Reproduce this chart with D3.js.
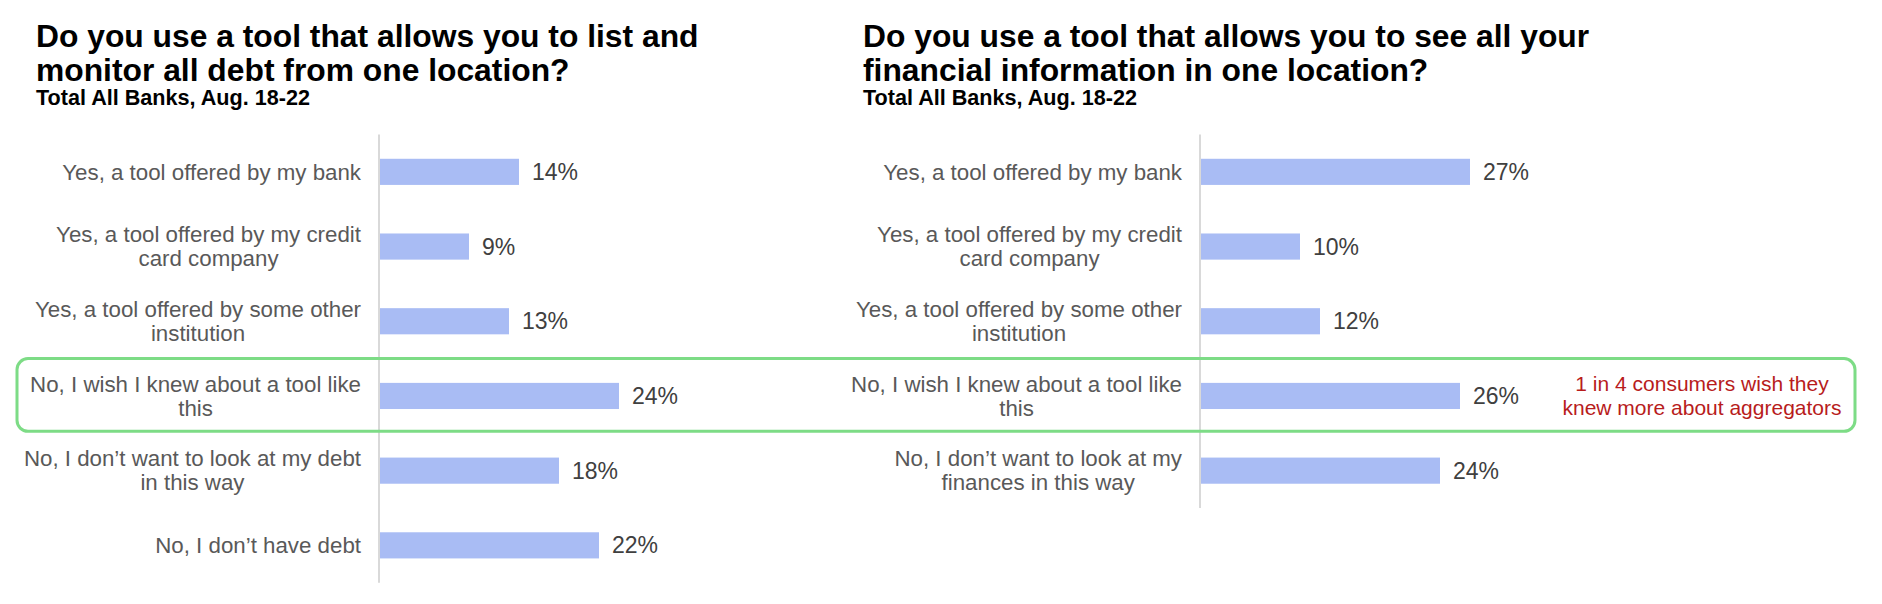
<!DOCTYPE html>
<html>
<head>
<meta charset="utf-8">
<script src="https://cdn.jsdelivr.net/npm/d3@7"></script>
<style>
  html, body { margin: 0; padding: 0; background: #fff; }
  svg { display: block; font-family: "Liberation Sans", Arial, sans-serif; }
</style>
</head>
<body>
<svg id="chart" width="1882" height="604"></svg>
<script>
// =========================
// DATA
// =========================

const debtTitle = ['Do you use a tool that allows you to list and', 'monitor all debt from one location?'];
const infoTitle = ['Do you use a tool that allows you to see all your', 'financial information in one location?'];
const subtitle = 'Total All Banks, Aug. 18-22';

const debtCategories = [
  'Yes, a tool offered by my bank',
  'Yes, a tool offered by my credit card company',
  'Yes, a tool offered by some other institution',
  'No, I wish I knew about a tool like this',
  'No, I don\u2019t want to look at my debt in this way',
  'No, I don\u2019t have debt'
];
const debtValues = [14, 9, 13, 24, 18, 22];

const infoCategories = [
  'Yes, a tool offered by my bank',
  'Yes, a tool offered by my credit card company',
  'Yes, a tool offered by some other institution',
  'No, I wish I knew about a tool like this',
  'No, I don\u2019t want to look at my finances in this way'
];
const infoValues = [27, 10, 12, 26, 24];

const highlightCategory = 'No, I wish I knew about a tool like this';
const calloutLines = ['1 in 4 consumers wish they', 'knew more about aggregators'];

// =========================
// LAYOUT
// =========================

const svg = d3.select('#chart');
const plotTop = 134.5;
const step = 74.7;

const barColor = '#a9bcf4';
const labelColor = '#595959';
const valueColor = '#404040';
const labelSize = 22.3;

function drawTitle(x, lines) {
  const t = svg.append('text')
    .attr('x', x)
    .attr('y', 47)
    .attr('font-size', 31.8)
    .attr('font-weight', 'bold')
    .attr('fill', '#000');
  lines.forEach((line, i) => {
    t.append('tspan')
      .attr('x', x)
      .attr('dy', i === 0 ? 0 : 34)
      .text(line);
  });

  svg.append('text')
    .attr('x', x)
    .attr('y', 105)
    .attr('font-size', 21.6)
    .attr('font-weight', 'bold')
    .attr('fill', '#000')
    .text(subtitle);
}

// wrap a label, centre its lines against each other, right-align the block
function wrapLabel(g, text, rightX, cy, maxWidth) {
  const words = text.split(' ');
  const probe = g.append('text').attr('font-size', labelSize);
  const lines = [];
  let line = [];
  words.forEach(w => {
    line.push(w);
    probe.text(line.join(' '));
    if (probe.node().getComputedTextLength() > maxWidth && line.length > 1) {
      line.pop();
      lines.push(line.join(' '));
      line = [w];
    }
  });
  lines.push(line.join(' '));

  let widest = 0;
  lines.forEach(l => {
    probe.text(l);
    widest = Math.max(widest, probe.node().getComputedTextLength());
  });
  probe.remove();

  const lineHeight = 24;
  const startY = cy - (lines.length - 1) * lineHeight / 2;
  lines.forEach((l, i) => {
    g.append('text')
      .attr('x', rightX - widest / 2)
      .attr('y', startY + i * lineHeight)
      .attr('dy', '0.35em')
      .attr('text-anchor', 'middle')
      .attr('font-size', labelSize)
      .attr('fill', labelColor)
      .text(l);
  });
}

function drawPanel(axisX, categories, values) {
  const g = svg.append('g');

  const y = d3.scaleBand()
    .domain(categories)
    .range([plotTop, plotTop + categories.length * step])
    .paddingInner(0.65)
    .paddingOuter(0.325);

  const x = d3.scaleLinear()
    .domain([0, 30])
    .range([axisX, axisX + 300]);

  // bars
  g.selectAll('.bar')
    .data(categories)
    .enter()
    .append('rect')
    .attr('class', 'bar')
    .attr('x', x(0))
    .attr('y', d => y(d))
    .attr('width', (d, i) => x(values[i]) - x(0))
    .attr('height', y.bandwidth())
    .attr('fill', barColor);

  // axis line
  g.append('line')
    .attr('x1', x(0))
    .attr('x2', x(0))
    .attr('y1', y.range()[0])
    .attr('y2', y.range()[1])
    .attr('stroke', '#d9d9d9')
    .attr('stroke-width', 2);

  // value labels
  g.selectAll('.value')
    .data(categories)
    .enter()
    .append('text')
    .attr('class', 'value')
    .attr('x', (d, i) => x(values[i]) + 13)
    .attr('y', d => y(d) + y.bandwidth() / 2)
    .attr('dy', '0.35em')
    .attr('font-size', 23)
    .attr('fill', valueColor)
    .text((d, i) => `${values[i]}%`);

  // category labels
  categories.forEach(c => {
    wrapLabel(g, c, axisX - 18, y(c) + y.bandwidth() / 2, 350);
  });

  return y;
}

drawTitle(36, debtTitle);
drawTitle(863, infoTitle);

const yLeft = drawPanel(379, debtCategories, debtValues);
drawPanel(1200, infoCategories, infoValues);

// highlight box around the "wish I knew" row
const rowTop = yLeft(highlightCategory) - yLeft.step() * yLeft.paddingInner() / 2;
svg.append('rect')
  .attr('x', 17)
  .attr('y', rowTop)
  .attr('width', 1855 - 17)
  .attr('height', yLeft.step() - 2)
  .attr('rx', 11)
  .attr('fill', 'none')
  .attr('stroke', '#7ddc86')
  .attr('stroke-width', 3);

// callout
const calloutY = yLeft(highlightCategory) + yLeft.bandwidth() / 2;
calloutLines.forEach((l, i) => {
  svg.append('text')
    .attr('x', 1702)
    .attr('y', calloutY - 12 + i * 24)
    .attr('dy', '0.35em')
    .attr('text-anchor', 'middle')
    .attr('font-size', 21)
    .attr('fill', '#b81c1c')
    .text(l);
});
</script>
</body>
</html>
